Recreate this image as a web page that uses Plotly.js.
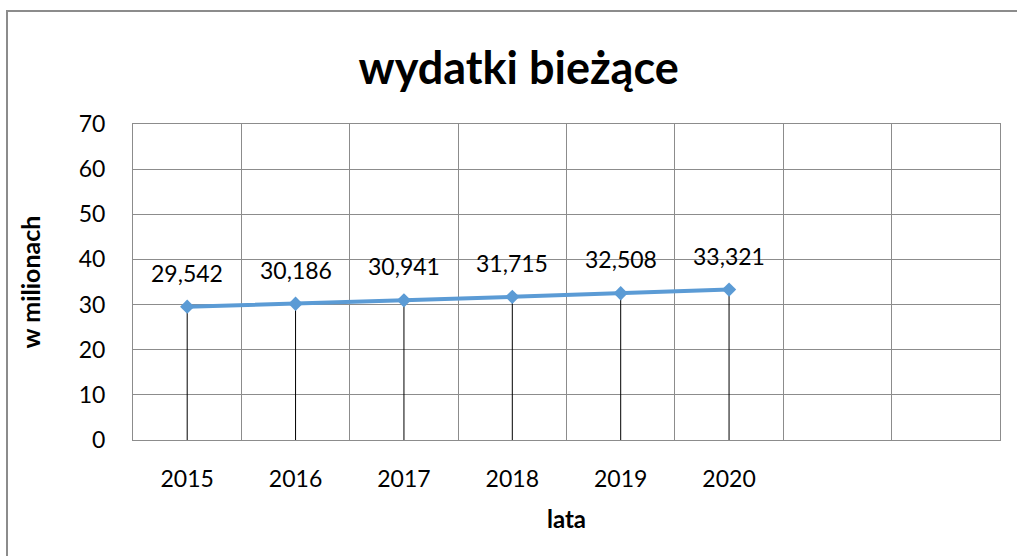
<!DOCTYPE html>
<html>
<head>
<meta charset="utf-8">
<script src="https://cdn.plot.ly/plotly-3.0.1.min.js"></script>
<style>
  html, body { margin: 0; padding: 0; overflow: hidden; background: #fff; }
  #chart { position: absolute; left: 0; top: 0; width: 1017px; height: 556px; }
  #frame { position: absolute; left: 6px; top: 10px; width: 1100px; height: 700px;
           border-top: 2px solid #8c8c8c; border-left: 2px solid #8c8c8c; pointer-events: none; }
</style>
</head>
<body>
<div id="chart"></div>
<div id="frame"></div>
<script>
const years = ['2015', '2016', '2017', '2018', '2019', '2020'];
const emptySlots = [' ', '  '];
const values = [29.542, 30.186, 30.941, 31.715, 32.508, 33.321];
const yTicks = [0, 10, 20, 30, 40, 50, 60, 70];

const titleText = 'wydatki bieżące';
const xTitle = 'lata';
const yTitle = 'w milionach';

const FONT = 'Lato, "Open Sans", sans-serif';
const GRID = '#8c8c8c';

const trace = {
  type: 'scatter',
  mode: 'lines+markers',
  x: years,
  y: values,
  line: { color: '#5b9bd5', width: 4 },
  marker: { symbol: 'diamond', size: 11, color: '#5b9bd5' },
  error_y: {
    type: 'data', symmetric: false,
    array: values.map(() => 0),
    arrayminus: values,
    color: '#000000', thickness: 1, width: 0
  },
  hoverinfo: 'x+y'
};

const annotations = years.map((yr, i) => ({
  x: i, y: values[i], xref: 'x', yref: 'y',
  text: values[i].toFixed(3).replace('.', ','),
  showarrow: false, yshift: 34,
  font: { family: FONT, size: 23, color: '#000' }
}));

const layout = {
  width: 1017, height: 556,
  margin: { l: 133, r: 17, t: 124, b: 116 },
  paper_bgcolor: 'rgba(0,0,0,0)',
  plot_bgcolor: '#ffffff',
  showlegend: false,
  title: {
    text: '<b>' + titleText + '</b>',
    font: { family: FONT, size: 45, color: '#000' },
    x: 0.51, xanchor: 'center', y: 0.877, yanchor: 'middle'
  },
  xaxis: {
    type: 'category',
    categoryorder: 'array',
    categoryarray: years.concat(emptySlots),
    range: [-0.5, 7.5],
    tickson: 'boundaries',
    ticks: '',
    showgrid: true, gridcolor: GRID, gridwidth: 1,
    showline: true, linecolor: GRID, linewidth: 1, mirror: true,
    tickfont: { family: FONT, size: 23, color: '#000' },
    ticklabelstandoff: 18,
    title: { text: '<b>' + xTitle + '</b>', font: { family: FONT, size: 24, color: '#000' }, standoff: 20 },
    fixedrange: true
  },
  yaxis: {
    range: [0, 70],
    tickvals: yTicks,
    ticks: '',
    showgrid: true, gridcolor: GRID, gridwidth: 1,
    zeroline: false,
    showline: true, linecolor: GRID, linewidth: 1, mirror: true,
    tickfont: { family: FONT, size: 23, color: '#000' },
    ticklabelstandoff: 22,
    title: { text: '<b>' + yTitle + '</b>', font: { family: FONT, size: 25, color: '#000' }, standoff: 30 },
    fixedrange: true
  },
  annotations: annotations
};

Plotly.newPlot('chart', [trace], layout, { displayModeBar: false, staticPlot: true });
</script>
</body>
</html>
